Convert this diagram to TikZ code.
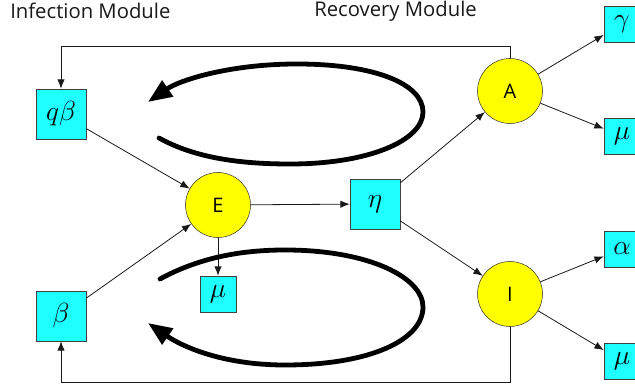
\documentclass[tikz,border=0pt]{standalone}
\usepackage{fontspec}
\setmainfont{Open Sans}
\usetikzlibrary{arrows.meta}
\definecolor{boxcyan}{RGB}{30,255,255}
\definecolor{compyellow}{RGB}{255,255,0}

\tikzset{
  rate/.style={draw=black!75, fill=boxcyan, minimum size=37.5pt, inner sep=0pt, font=\fontsize{20}{24}\selectfont},
  smallrate/.style={rate, minimum size=27pt},
  comp/.style={circle, draw=black!80, fill=compyellow, minimum size=48.75pt, inner sep=0pt, font=\fontsize{15}{18}\selectfont},
  flow/.style={-{Latex[length=7pt,width=5.5pt]}, black!90, line width=0.6pt},
  cycle arrow/.style={line width=3.6pt, line cap=round, -{Triangle[length=18pt,width=14pt]}}
}

\begin{document}
\begin{tikzpicture}[x=0.75pt,y=0.75pt,yscale=-1,xscale=1]
        \useasboundingbox (0,0) rectangle (635,391);

        % Text Node
        \node [anchor=west, inner sep=0.75pt, text=black!90, font=\fontsize{15.2}{18}\selectfont] (infection) at (9,11) {Infection Module};
        % Text Node
        \node [anchor=west, inner sep=0.75pt, text=black!90, font=\fontsize{15.2}{18}\selectfont] (recovery) at (313,11) {Recovery Module};

        %Shape: Square
        \node [rate] (qb) at (61,114) {$q\beta$};
        \node [rate] (b) at (61,316) {$\beta$};
        \node [rate] (eta) at (375,204) {$\eta$};
        \node [smallrate] (muE) at (218,294) {$\mu$};
        \node [smallrate] (gamma) at (622,24) {$\gamma$};
        \node [smallrate] (muA) at (622,136) {$\mu$};
        \node [smallrate] (alpha) at (622,249) {$\alpha$};
        \node [smallrate] (muI) at (622,361) {$\mu$};

        %Shape: Circle
        \node [comp] (E) at (218,205) {E};
        \node [comp] (A) at (510,91) {A};
        \node [comp] (I) at (510,294) {I};

        % Connectors
        \draw [flow] (qb) -- (E);
        \draw [flow] (b) -- (E);
        \draw [flow] (E) -- (eta);
        \draw [flow] (E) -- (muE);
        \draw [flow] (eta) -- (A);
        \draw [flow] (eta) -- (I);
        \draw [flow] (A) -- (gamma);
        \draw [flow] (A) -- (muA);
        \draw [flow] (I) -- (alpha);
        \draw [flow] (I) -- (muI);
        \draw [flow] (A.north) -- ++(0,-12) -| (qb.north);
        \draw [flow] (I.south) -- ++(0,56) -| (b.south);

        %Shape: Curve
        \draw [cycle arrow] (159,138) .. controls (195,158) and (240,164) .. (290,164)
            .. controls (370,164) and (423,140) .. (423,112)
            .. controls (423,84) and (375,64) .. (297,64)
            .. controls (230,64) and (180,80) .. (148,102);
        %Shape: Curve
        \draw [cycle arrow] (160,279) .. controls (195,260) and (235,250) .. (285,250)
            .. controls (370,250) and (423,278) .. (423,307)
            .. controls (423,340) and (370,365) .. (285,365)
            .. controls (220,365) and (180,345) .. (148,323);

\end{tikzpicture}
\end{document}
